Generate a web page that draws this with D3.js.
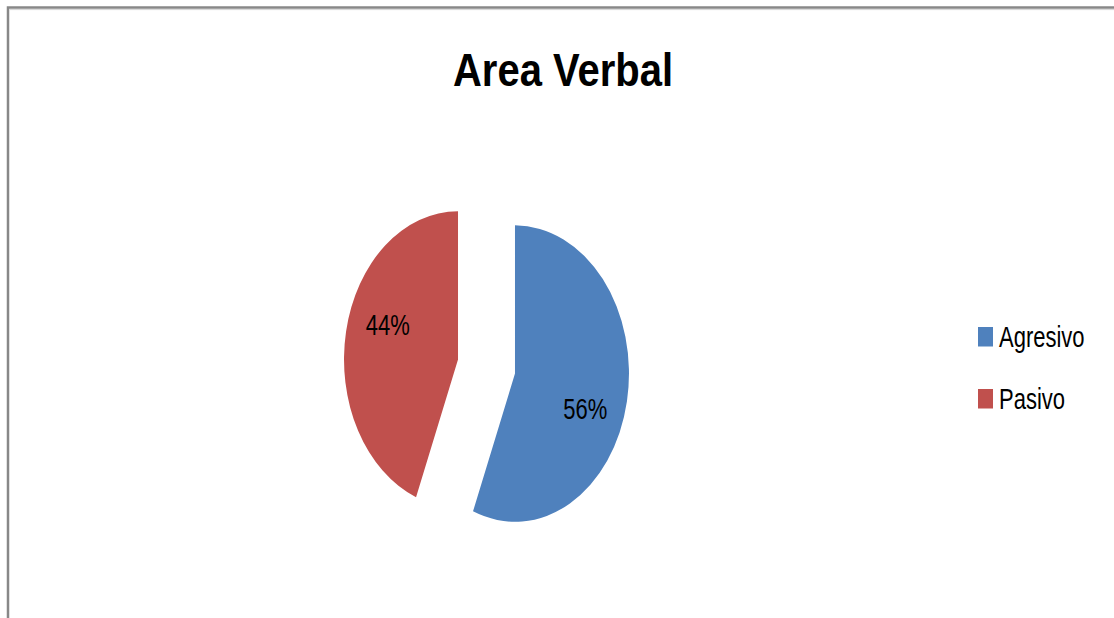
<!DOCTYPE html>
<html><head><meta charset="utf-8">
<script src="https://cdn.jsdelivr.net/npm/d3@7"></script>
<style>
html,body{margin:0;padding:0;background:#fff;overflow:hidden}
text{font-family:"Liberation Sans",Arial,sans-serif}
</style></head>
<body>
<svg id="chart" width="1114" height="618"></svg>
<script>
const title = "Area Verbal";
const categories = ["Agresivo", "Pasivo"];
const values = [56, 44];
const colors = ["#4F81BD", "#C0504D"];

const svg = d3.select("#chart");
const W = 1114, H = 618;

// chart frame (clipped on right and bottom like the reference)
svg.append("rect").attr("x", 8).attr("y", 7.5).attr("width", W + 20).attr("height", H + 20)
  .attr("fill", "#fff").attr("stroke", "#888").attr("stroke-width", 2.5);
svg.append("line").attr("x1", 9.5).attr("x2", W).attr("y1", 9.6).attr("y2", 9.6)
  .attr("stroke", "#d6d6d6").attr("stroke-width", 1);

// title
svg.append("text").attr("transform", "translate(563,86) scale(1,1.15)").attr("text-anchor", "middle")
  .attr("font-size", 40).attr("font-weight", "bold").attr("fill", "#000").text(title);

// pie
const sy = 1.3;          // vertical stretch of the plot
const r = 114;
const cx = 486.5, cy = 366.5;
const explode = 29;
const pie = d3.pie().sort(null).value(d => d);
const arcs = pie(values);
const arc = d3.arc().innerRadius(0).outerRadius(r);
const labelArc = d3.arc().innerRadius(r * 0.66).outerRadius(r * 0.66);

const g = svg.append("g").attr("transform", `translate(${cx},${cy}) scale(1,${sy})`);
arcs.forEach((a, i) => {
  const mid = (a.startAngle + a.endAngle) / 2;
  const dx = explode * Math.sin(mid), dy = -explode * Math.cos(mid);
  g.append("path").attr("d", arc(a)).attr("fill", colors[i])
    .attr("transform", `translate(${dx},${dy})`);
  const la = Object.assign({}, a, {startAngle: a.startAngle + 0.18, endAngle: a.endAngle + 0.18});
  const c = labelArc.centroid(la);
  const px = cx + dx + c[0], py = cy + (dy + c[1]) * sy;
  svg.append("text").attr("transform", `translate(${px},${py}) scale(1,${sy})`)
    .attr("text-anchor", "middle").attr("dy", "0.36em")
    .attr("font-size", 22).attr("fill", "#000")
    .text(Math.round(values[i] / d3.sum(values) * 100) + "%");
});

// legend
const ly = d3.scalePoint().domain(categories).range([327, 389]);
categories.forEach((c, i) => {
  const y0 = ly(c);
  svg.append("rect").attr("x", 978).attr("y", y0).attr("width", 15).attr("height", 19.5)
    .attr("fill", colors[i]);
  svg.append("text").attr("transform", `translate(999,${y0 + 19.5}) scale(1,${sy})`)
    .attr("font-size", 22).attr("fill", "#000").text(c);
});
</script>
</body></html>
